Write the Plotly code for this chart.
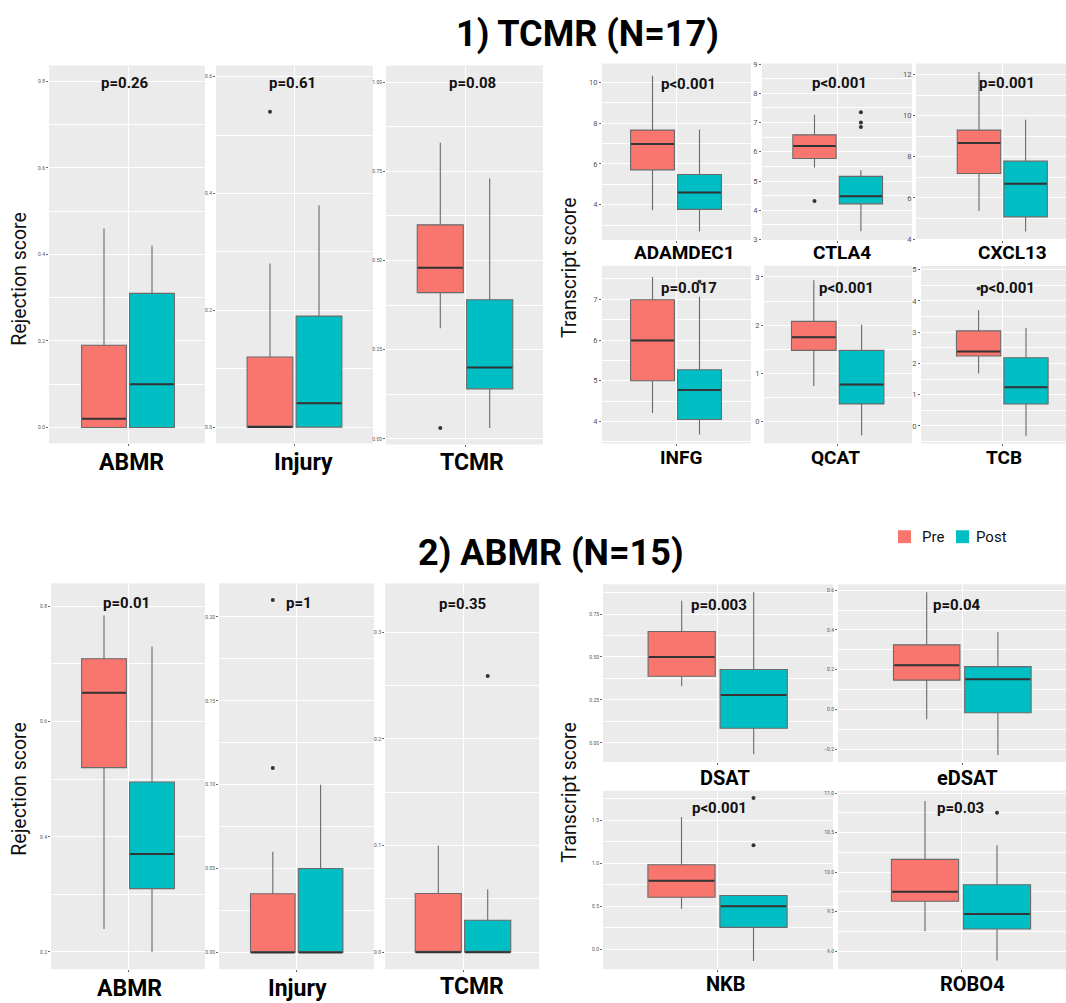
import plotly.graph_objects as go

W, H = 1066, 1003
PRE_COLOR = "#F8766D"
POST_COLOR = "#00BFC4"
GROUP_NAMES = ["Pre", "Post"]

# ---------------- DATA ----------------
# box stats: [lower whisker, q1, median, q3, upper whisker]
# Section 1) TCMR (N=17) - rejection scores
S1_REJ_LABELS = ["ABMR", "Injury", "TCMR"]
S1_REJ_P = ["p=0.26", "p=0.61", "p=0.08"]
S1_REJ_PRE = [[0.0, 0.0, 0.02, 0.19, 0.46],
              [0.0, 0.0, 0.0, 0.12, 0.28],
              [0.31, 0.41, 0.48, 0.60, 0.83]]
S1_REJ_POST = [[0.0, 0.0, 0.10, 0.31, 0.42],
               [0.0, 0.0, 0.041, 0.19, 0.38],
               [0.03, 0.14, 0.20, 0.39, 0.73]]
S1_REJ_PRE_OUT = [[], [0.54], [0.03]]
S1_REJ_POST_OUT = [[], [], []]

# Section 1) TCMR (N=17) - transcript scores
S1_TX_LABELS = ["ADAMDEC1", "CTLA4", "CXCL13", "INFG", "QCAT", "TCB"]
S1_TX_P = ["p<0.001", "p<0.001", "p=0.001", "p=0.017", "p<0.001", "p<0.001"]
S1_TX_PRE = [[3.72, 5.71, 6.98, 7.66, 10.33],
             [5.46, 5.77, 6.20, 6.58, 7.27],
             [5.37, 7.19, 8.67, 9.30, 12.13],
             [4.21, 5.00, 5.99, 6.99, 7.55],
             [0.74, 1.48, 1.75, 2.08, 2.93],
             [1.68, 2.24, 2.38, 3.04, 3.70]]
S1_TX_POST = [[2.68, 3.77, 4.60, 5.48, 7.69],
              [3.28, 4.22, 4.48, 5.16, 5.37],
              [4.37, 5.08, 6.69, 7.79, 9.80],
              [3.68, 4.05, 4.77, 5.27, 7.06],
              [-0.28, 0.37, 0.77, 1.48, 2.01],
              [-0.31, 0.70, 1.24, 2.18, 3.13]]
S1_TX_PRE_OUT = [[], [4.32], [], [], [], [4.40]]
S1_TX_POST_OUT = [[], [7.35, 7.00, 6.85], [], [7.43], [], []]

# Section 2) ABMR (N=15) - rejection scores
S2_REJ_LABELS = ["ABMR", "Injury", "TCMR"]
S2_REJ_P = ["p=0.01", "p=1", "p=0.35"]
S2_REJ_PRE = [[0.24, 0.52, 0.65, 0.709, 0.784],
              [0.0, 0.0, 0.0, 0.035, 0.06],
              [0.0, 0.0, 0.0, 0.055, 0.10]]
S2_REJ_POST = [[0.20, 0.31, 0.37, 0.495, 0.73],
               [0.0, 0.0, 0.0, 0.05, 0.10],
               [0.0, 0.0, 0.0, 0.03, 0.059]]
S2_REJ_PRE_OUT = [[], [0.11, 0.21], []]
S2_REJ_POST_OUT = [[], [], [0.259]]

# Section 2) ABMR (N=15) - transcript scores
S2_TX_LABELS = ["DSAT", "eDSAT", "NKB", "ROBO4"]
S2_TX_P = ["p=0.003", "p=0.04", "p<0.001", "p=0.03"]
S2_TX_PRE = [[0.33, 0.388, 0.50, 0.648, 0.827],
             [-0.05, 0.147, 0.222, 0.325, 0.59],
             [0.473, 0.607, 0.80, 0.985, 1.54],
             [9.25, 9.63, 9.75, 10.16, 10.90]]
S2_TX_POST = [[-0.067, 0.085, 0.279, 0.427, 0.879],
              [-0.23, -0.017, 0.152, 0.215, 0.39],
              [-0.135, 0.257, 0.503, 0.627, 0.627],
              [8.88, 9.28, 9.47, 9.84, 10.34]]
S2_TX_PRE_OUT = [[], [], [], []]
S2_TX_POST_OUT = [[], [], [1.21, 1.76], [10.75]]

TITLES = ["1) TCMR (N=17)", "2) ABMR (N=15)"]
YTITLES = ["Rejection score", "Transcript score"]

# ---------------- LAYOUT GEOMETRY (pixels) ----------------
# (L, R, T, B, center_x, box_offset_px, y0, y1, dtick, minor, fmt, tick_size,
#  p_x, p_y, lab_x, lab_y, lab_size)
GEOM = [
    (49, 205, 62, 443, 128, 24, -0.037, 0.837, 0.2, 0.1, ".1f", 5, 125, 80, 131, 462, 23),
    (216, 373, 62, 443, 294.5, 24.5, -0.028, 0.619, 0.2, 0.1, ".1f", 5, 292, 80, 303, 462, 23),
    (386, 543, 62, 444, 465, 24.7, -0.016, 1.047, 0.25, 0.125, ".2f", 5, 472, 80, 472, 462, 23),
    (602, 751, 60, 238, 676, 23.5, 2.26, 10.93, 2, 1, "d", 7.5, 688, 81, 684, 250, 19),
    (762, 912, 60, 238, 837.7, 23.2, 2.98, 9.02, 1, 0.5, "d", 7.5, 839, 80, 842, 250, 19),
    (916, 1066, 60, 238, 1002.3, 23.3, 3.95, 12.54, 2, 1, "d", 7.5, 1007, 80, 1012, 250, 19),
    (602, 751, 264, 443, 676, 23.5, 3.46, 7.82, 1, 0.5, "d", 7.5, 689, 286, 681, 457, 19),
    (764, 912, 264, 443, 837.7, 23.9, -0.45, 3.23, 1, 0.5, "d", 7.5, 846, 286, 835, 457, 19),
    (921, 1066, 264, 443, 1002.3, 23.7, -0.56, 5.12, 1, 0.5, "d", 7.5, 1007, 286, 1004, 457, 19),
    (51, 205, 584, 973, 128, 24, 0.17, 0.84, 0.2, 0.1, ".1f", 5, 126, 604, 129, 992, 23),
    (219, 374, 584, 973, 296.7, 23.9, -0.01, 0.22, 0.05, 0.025, ".2f", 5, 299, 604, 297.5, 992, 23),
    (385, 539, 584, 973, 463, 24.7, -0.016, 0.346, 0.1, 0.05, ".1f", 5, 462, 605, 472, 990, 23),
    (603, 833, 585, 764, 717.7, 36, -0.111, 0.923, 0.25, 0.125, ".2f", 5, 719, 606, 725, 780, 20),
    (838, 1066, 585, 764, 962.3, 35.6, -0.265, 0.63, 0.2, 0.1, ".1f", 5, 957, 606, 967, 780, 20),
    (603, 833, 793, 973, 717.5, 36, -0.23, 1.846, 0.5, 0.25, ".1f", 5, 719, 810, 726, 988, 20),
    (838, 1066, 793, 973, 961, 36, 8.77, 11.03, 0.5, 0.25, ".1f", 5, 960, 810, 972, 988, 20),
]

GROUPS = [
    (S1_REJ_LABELS, S1_REJ_P, S1_REJ_PRE, S1_REJ_POST, S1_REJ_PRE_OUT, S1_REJ_POST_OUT),
    (S1_TX_LABELS, S1_TX_P, S1_TX_PRE, S1_TX_POST, S1_TX_PRE_OUT, S1_TX_POST_OUT),
    (S2_REJ_LABELS, S2_REJ_P, S2_REJ_PRE, S2_REJ_POST, S2_REJ_PRE_OUT, S2_REJ_POST_OUT),
    (S2_TX_LABELS, S2_TX_P, S2_TX_PRE, S2_TX_POST, S2_TX_PRE_OUT, S2_TX_POST_OUT),
]

panels = []
for labels, pv, pre, post, pre_o, post_o in GROUPS:
    for j in range(len(labels)):
        panels.append((labels[j], pv[j], pre[j], post[j], pre_o[j], post_o[j]))

FONT = "Roboto, Arial, sans-serif"
BOX_OFF = 0.1875
BOX_W = 0.35

def px(x):
    return x / W

def py(y):
    return 1 - y / H

fig = go.Figure()
layout = {}
annotations = []

for i, (panel, g) in enumerate(zip(panels, GEOM)):
    label, ptxt, pre, post, pre_o, post_o = panel
    (L, R, T, B, c, off, y0, y1, dt, mn, fmt, tsz,
     p_x, p_y, lab_x, lab_y, lab_sz) = g
    n = i + 1
    xa = "x" if n == 1 else f"x{n}"
    ya = "y" if n == 1 else f"y{n}"
    xk = "xaxis" if n == 1 else f"xaxis{n}"
    yk = "yaxis" if n == 1 else f"yaxis{n}"
    s = off / BOX_OFF
    for stats, outs, color, xpos, name in [
        (pre, pre_o, PRE_COLOR, -BOX_OFF, GROUP_NAMES[0]),
        (post, post_o, POST_COLOR, BOX_OFF, GROUP_NAMES[1]),
    ]:
        lo, q1, med, q3, hi = stats
        fig.add_trace(go.Box(
            x=[xpos], lowerfence=[lo], q1=[q1], median=[med], q3=[q3],
            upperfence=[hi], width=BOX_W, fillcolor=color, name=name,
            line=dict(color="#6a6a6a", width=1.1), whiskerwidth=0,
            boxpoints=False, xaxis=xa, yaxis=ya, showlegend=False,
        ))
        # darker, thicker median bar (ggplot style)
        fig.add_trace(go.Scatter(
            x=[xpos - BOX_W / 2 + 0.004, xpos + BOX_W / 2 - 0.004], y=[med, med],
            mode="lines", line=dict(color="#333333", width=2),
            xaxis=xa, yaxis=ya, showlegend=False, hoverinfo="skip",
        ))
        if outs:
            fig.add_trace(go.Scatter(
                x=[xpos] * len(outs), y=outs, mode="markers",
                marker=dict(size=4, color="#333333"),
                xaxis=xa, yaxis=ya, showlegend=False, hoverinfo="y",
            ))
    layout[xk] = dict(
        domain=[px(L), px(R)], range=[(L - c) / s, (R - c) / s],
        anchor=ya, tickvals=[0], ticktext=[""], ticks="outside", ticklen=2,
        tickcolor="#666", tickwidth=0.6, showgrid=True, gridcolor="white",
        gridwidth=1, zeroline=False, showline=False, fixedrange=True,
    )
    layout[yk] = dict(
        domain=[py(B), py(T)], range=[y0, y1], anchor=xa,
        dtick=dt, tick0=0, tickformat=fmt, ticks="outside", ticklen=2,
        tickcolor="#666", tickwidth=0.6,
        tickfont=dict(size=tsz, color="#555", family=FONT),
        showgrid=True, gridcolor="white", gridwidth=1, zeroline=False,
        showline=False, fixedrange=True,
        minor=dict(dtick=mn, tick0=0, showgrid=True, gridcolor="white",
                   gridwidth=0.5, ticks=""),
    )
    annotations.append(dict(
        x=px(p_x), y=py(p_y), xref="paper", yref="paper", text=f"<b>{ptxt}</b>",
        showarrow=False, xanchor="center", yanchor="middle",
        font=dict(size=15, color="#111", family=FONT),
    ))
    annotations.append(dict(
        x=px(lab_x), y=py(lab_y), xref="paper", yref="paper", text=f"<b>{label}</b>",
        showarrow=False, xanchor="center", yanchor="middle",
        font=dict(size=lab_sz, color="#000", family=FONT),
    ))

# section titles
for txt, (tx, ty) in zip(TITLES, [(587, 30), (551, 553)]):
    annotations.append(dict(
        x=px(tx), y=py(ty), xref="paper", yref="paper", text=f"<b>{txt}</b>",
        showarrow=False, xanchor="center", yanchor="middle",
        font=dict(size=36, color="#000", family=FONT),
    ))

# y-axis titles
for txt, (tx, ty) in [(YTITLES[0], (20, 277)), (YTITLES[0], (20, 791)),
                      (YTITLES[1], (570, 266)), (YTITLES[1], (570, 795))]:
    annotations.append(dict(
        x=px(tx), y=py(ty), xref="paper", yref="paper", text=txt,
        showarrow=False, xanchor="center", yanchor="middle", textangle=-90,
        font=dict(size=19.5, color="#111", family=FONT),
    ))

# legend (drawn)
shapes = []
for name, color, sx, tx in [(GROUP_NAMES[0], PRE_COLOR, 898, 920),
                            (GROUP_NAMES[1], POST_COLOR, 956, 974)]:
    shapes.append(dict(type="rect", xref="paper", yref="paper",
                       x0=px(sx), x1=px(sx + 13), y0=py(543.5), y1=py(530.5),
                       fillcolor=color, line=dict(width=0)))
    annotations.append(dict(
        x=px(tx), y=py(537), xref="paper", yref="paper", text=name,
        showarrow=False, xanchor="left", yanchor="middle",
        font=dict(size=15, color="#111", family=FONT),
    ))

fig.update_layout(
    width=W, height=H, margin=dict(l=0, r=0, t=0, b=0),
    paper_bgcolor="white", plot_bgcolor="#EBEBEB",
    showlegend=False, annotations=annotations, shapes=shapes,
    **layout,
)

fig.write_html(
    "out.html",
    config={"displayModeBar": False},
    post_script="document.body.style.margin='0';document.body.style.overflow='hidden';",
)
